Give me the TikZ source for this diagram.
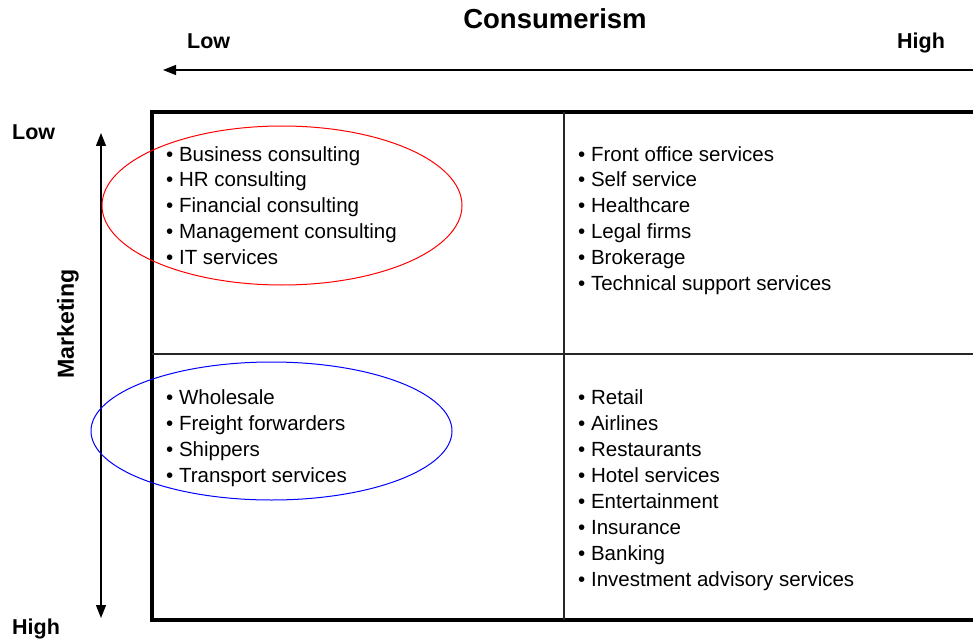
\documentclass[tikz,border=0pt]{standalone}
\usepackage{fontspec}
\setmainfont{Liberation Sans}
\usetikzlibrary{arrows.meta}

\begin{document}
\begin{tikzpicture}[
		x=1pt, y=-1pt,
		item/.style={anchor=base west, inner sep=0pt, font=\fontsize{20.5}{24}\selectfont},
		axis/.style={inner sep=0pt, font=\bfseries\fontsize{21.5}{24}\selectfont},
		axisarrow/.style={line width=1.3pt, -{Triangle[length=13pt,width=10pt]}},
		grid/.style={line width=2pt, black!85}
	]
	\useasboundingbox (0,0) rectangle (973,639);

	% titles
	\node[inner sep=0pt, font=\bfseries\fontsize{27.5}{30}\selectfont, anchor=base] (cons) at (555,29) {Consumerism};
	\node[axis, anchor=base west] (clow) at (187,49) {Low};
	\node[axis, anchor=base west] (chigh) at (897,49) {High};
	\node[axis, anchor=base west] (mlow) at (12,140) {Low};
	\node[axis, anchor=base west] (mhigh) at (12,634) {High};
	\node[axis, rotate=90, font=\bfseries\fontsize{23.2}{26}\selectfont] (mark) at (68,324) {Marketing};

	% axes
	\coordinate (cstart) at (973,70);
	\coordinate (cend) at (163,70);
	\draw[axisarrow] (cstart) -- (cend);
	\coordinate (mtop) at (101,133);
	\coordinate (mbot) at (101,618);
	\draw[axisarrow, {Triangle[length=13pt,width=10pt]}-{Triangle[length=13pt,width=10pt]}] (mtop) -- (mbot);

	% matrix
	\draw[line width=4pt] (973,112) -- (152,112) -- (152,620) -- (973,620);
	\draw[grid] (564,112) -- (564,620);
	\draw[grid] (152,354) -- (973,354);

	% groups
	\draw[red, line width=1pt] (282,205.5) ellipse [x radius=180pt, y radius=79.5pt];
	\draw[blue, line width=1pt] (271.5,431) ellipse [x radius=180.5pt, y radius=69pt];

	% lists
	\foreach \t [count=\i] in {Business consulting, HR consulting, Financial consulting,
		Management consulting, IT services}
		\node[item] (tl\i) at (166,161+25.8*\i-25.8) {\textbullet\ \t};
	\foreach \t [count=\i] in {Front office services, Self service, Healthcare, Legal firms,
		Brokerage, Technical support services}
		\node[item] (tr\i) at (578,161+25.8*\i-25.8) {\textbullet\ \t};
	\foreach \t [count=\i] in {Wholesale, Freight forwarders, Shippers, Transport services}
		\node[item] (bl\i) at (166,404+26*\i-26) {\textbullet\ \t};
	\foreach \t [count=\i] in {Retail, Airlines, Restaurants, Hotel services, Entertainment,
		Insurance, Banking, Investment advisory services}
		\node[item] (br\i) at (578,404+26*\i-26) {\textbullet\ \t};
\end{tikzpicture}
\end{document}
